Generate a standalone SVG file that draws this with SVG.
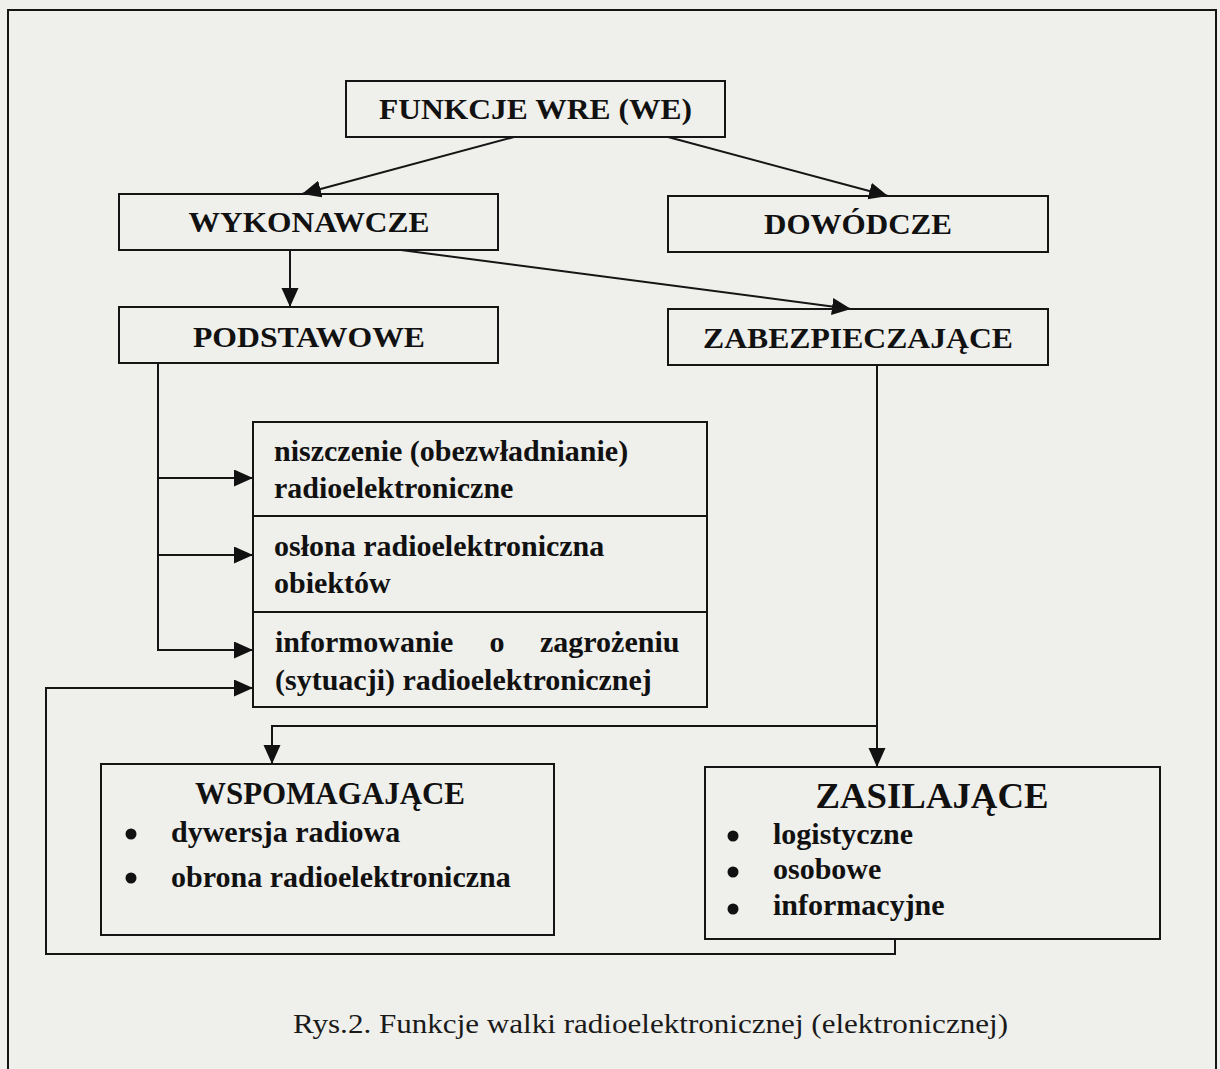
<svg xmlns="http://www.w3.org/2000/svg" width="1220" height="1069" viewBox="0 0 1220 1069">
<defs>
<style>
.bx{fill:none;stroke:#151515;stroke-width:2}
.ln{fill:none;stroke:#151515;stroke-width:2}
.h{font-family:"Liberation Serif","Times New Roman",serif;font-weight:bold;fill:#111;text-anchor:middle}
.t{font-family:"Liberation Serif","Times New Roman",serif;font-weight:bold;font-size:30px;fill:#111}
.cap{font-family:"Liberation Serif","Times New Roman",serif;font-size:28px;fill:#1a1a1a}
.dot{fill:#111}
</style>
<marker id="ar" markerUnits="userSpaceOnUse" markerWidth="22" markerHeight="20" refX="19" refY="8.5" orient="auto">
<path d="M0,0 L19,8.5 L0,17 Z" fill="#111"/>
</marker>
</defs>
<rect x="0" y="0" width="1220" height="1069" fill="#efefeb"/>
<rect class="bx" x="8" y="10" width="1208" height="1075"/>

<g id="connectors">
<line class="ln" x1="514" y1="137" x2="302" y2="194" marker-end="url(#ar)"/>
<line class="ln" x1="668" y1="137" x2="888" y2="196" marker-end="url(#ar)"/>
<line class="ln" x1="290" y1="250" x2="290" y2="307" marker-end="url(#ar)"/>
<line class="ln" x1="401" y1="250" x2="851" y2="309" marker-end="url(#ar)"/>
<polyline class="ln" points="158,363 158,650 253,650" marker-end="url(#ar)"/>
<line class="ln" x1="158" y1="478" x2="253" y2="478" marker-end="url(#ar)"/>
<line class="ln" x1="158" y1="555" x2="253" y2="555" marker-end="url(#ar)"/>
<line class="ln" x1="877" y1="365" x2="877" y2="767" marker-end="url(#ar)"/>
<polyline class="ln" points="877,726 272,726 272,764" marker-end="url(#ar)"/>
<polyline class="ln" points="895,939 895,954 46,954 46,688 253,688" marker-end="url(#ar)"/>
</g>

<g id="funkcje">
<rect class="bx" x="346" y="81" width="379" height="56"/>
<text class="h" x="535.5" y="119" font-size="30" textLength="313" lengthAdjust="spacingAndGlyphs">FUNKCJE WRE (WE)</text>
</g>
<g id="wykonawcze">
<rect class="bx" x="119" y="194" width="379" height="56"/>
<text class="h" x="309" y="232" font-size="30" textLength="241" lengthAdjust="spacingAndGlyphs">WYKONAWCZE</text>
</g>
<g id="dowodcze">
<rect class="bx" x="668" y="196" width="380" height="56"/>
<text class="h" x="858" y="234" font-size="30" textLength="188" lengthAdjust="spacingAndGlyphs">DOWÓDCZE</text>
</g>
<g id="podstawowe">
<rect class="bx" x="119" y="307" width="379" height="56"/>
<text class="h" x="309" y="347" font-size="30" textLength="232" lengthAdjust="spacingAndGlyphs">PODSTAWOWE</text>
</g>
<g id="zabezpieczajace">
<rect class="bx" x="668" y="309" width="380" height="56"/>
<text class="h" x="858" y="348" font-size="30" textLength="310" lengthAdjust="spacingAndGlyphs">ZABEZPIECZAJĄCE</text>
</g>
<g id="podstawowe-funkcje">
<rect class="bx" x="253" y="422" width="454" height="285"/>
<line class="ln" x1="253" y1="516" x2="707" y2="516"/>
<line class="ln" x1="253" y1="612" x2="707" y2="612"/>
<text class="t" x="274" y="461">niszczenie (obezwładnianie)</text>
<text class="t" x="274" y="498">radioelektroniczne</text>
<text class="t" x="274" y="556">osłona radioelektroniczna</text>
<text class="t" x="274" y="593">obiektów</text>
<text class="t" y="652"><tspan x="275">informowanie</tspan><tspan x="482"> o</tspan><tspan x="540">zagrożeniu</tspan></text>
<text class="t" x="275" y="690">(sytuacji) radioelektronicznej</text>
</g>
<g id="wspomagajace">
<rect class="bx" x="101" y="764" width="453" height="171"/>
<text class="h" x="330" y="804" font-size="31" textLength="270" lengthAdjust="spacingAndGlyphs">WSPOMAGAJĄCE</text>
<circle class="dot" cx="131" cy="834" r="5.5"/>
<text class="t" x="171" y="842">dywersja radiowa</text>
<circle class="dot" cx="131" cy="878" r="5.5"/>
<text class="t" x="171" y="887">obrona radioelektroniczna</text>
</g>
<g id="zasilajace">
<rect class="bx" x="705" y="767" width="455" height="172"/>
<text class="h" x="932" y="808" font-size="35" textLength="233" lengthAdjust="spacingAndGlyphs">ZASILAJĄCE</text>
<circle class="dot" cx="733" cy="836" r="5.5"/>
<text class="t" x="773" y="844">logistyczne</text>
<circle class="dot" cx="733" cy="872" r="5.5"/>
<text class="t" x="773" y="879">osobowe</text>
<circle class="dot" cx="733" cy="909" r="5.5"/>
<text class="t" x="773" y="915">informacyjne</text>
</g>
<text class="cap" x="293" y="1033" textLength="715" lengthAdjust="spacingAndGlyphs">Rys.2. Funkcje walki radioelektronicznej (elektronicznej)</text>
</svg>
